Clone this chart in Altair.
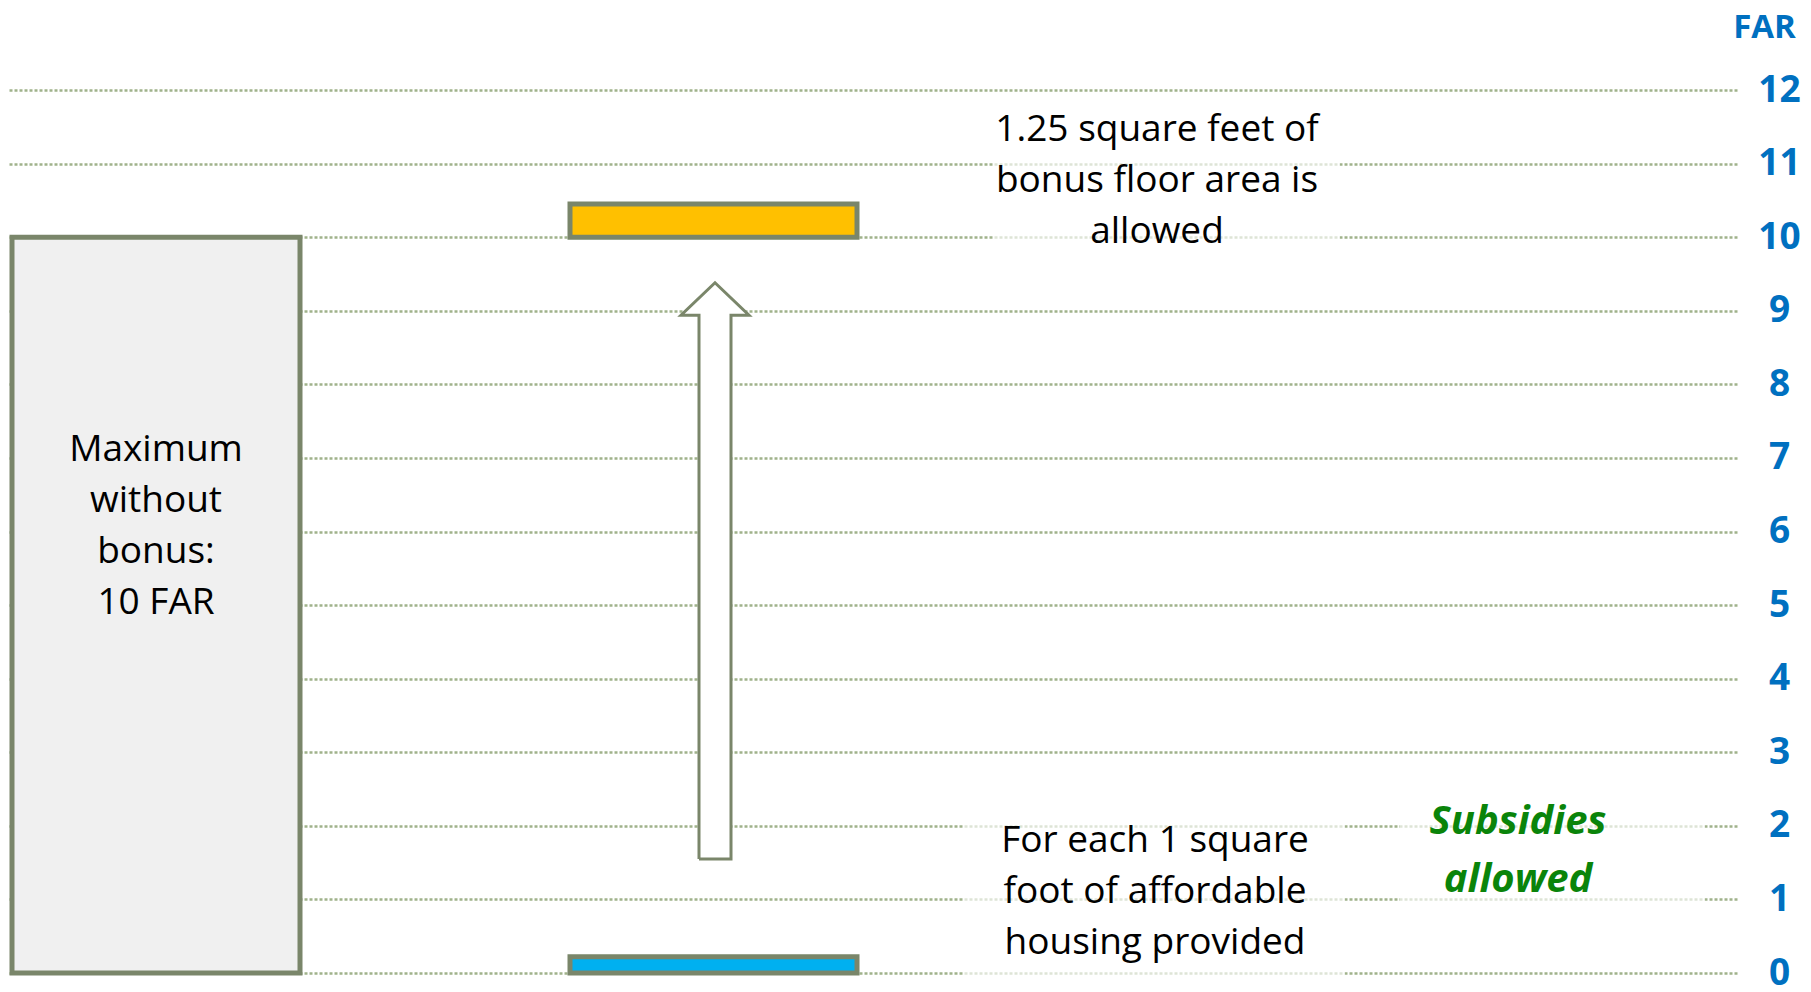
import altair as alt
import pandas as pd

# ---- data ----
far_ticks = list(range(0, 13))

block_names = ["Maximum without bonus", "Bonus floor area", "Affordable housing"]
block_x0 = [12, 570, 570]
block_x1 = [300, 857, 857]
block_far0 = [0, 10, 0]
block_far1 = [10, 10.45, 0.22]
block_fill = ["#F0F0F0", "#FFC000", "#00B0F0"]

arrow_x = [699, 699, 681, 715, 749, 731, 731, 699]
arrow_far = [1.55, 8.94, 8.94, 9.38, 8.94, 8.94, 1.55, 1.55]

note_texts = [
    "Maximum\nwithout\nbonus:\n10 FAR",
    "1.25 square feet of\nbonus floor area is\nallowed",
    "For each 1 square\nfoot of affordable\nhousing provided",
]
note_x = [156, 1157, 1155]
note_far = [7.11, 11.45, 1.80]

green_text = ["Subsidies\nallowed"]
green_x = [1518]
green_far = [2.05]

veil_x0 = [993, 963, 1400]
veil_x1 = [1340, 1345, 1705]
veil_far0 = [9.69, -0.15, 0.5]
veil_far1 = [11.86, 2.2, 2.5]

# ---- styles ----
FONT = "Open Sans"
EDGE = "#7A866A"
GRID = "#A0B28B"
BLUE = "#0070C0"

xscale = alt.Scale(domain=[8, 1737], nice=False, zero=False)
yscale = alt.Scale(domain=[0, 12], nice=False, zero=False)
yaxis = alt.Axis(
    orient="right", values=far_ticks, ticks=False, domain=False,
    grid=True, gridColor=GRID, gridDash=[3, 2], gridWidth=2.5,
    labelFont=FONT, labelFontWeight="bold", labelFontSize=37, labelColor=BLUE,
    labelAlign="center", labelBaseline="middle", labelPadding=42,
    labelFlush=False, labelOverlap=False,
    title="FAR", titleAngle=0, titleAlign="center", titleBaseline="middle",
    titleX=27, titleY=-63, titleFont=FONT, titleFontSize=33,
    titleFontWeight="bold", titleColor=BLUE,
)


def X(f):
    return alt.X(f, type="quantitative", scale=xscale, axis=None)


def Y(f):
    return alt.Y(f, type="quantitative", scale=yscale, axis=yaxis)


blocks = pd.DataFrame({"name": block_names, "x0": block_x0, "x1": block_x1,
                       "f0": block_far0, "f1": block_far1, "fill": block_fill})
arrow = pd.DataFrame({"x": arrow_x, "far": arrow_far, "i": list(range(len(arrow_x)))})
shaft = pd.DataFrame({"x0": [arrow_x[0]], "x1": [arrow_x[-2]],
                      "f0": [arrow_far[0]], "f1": [arrow_far[1]]})
head = pd.DataFrame({"x": arrow_x[2:5], "far": arrow_far[2:5],
                     "base": [arrow_far[2]] * 3})
notes = pd.DataFrame({"t": note_texts, "x": note_x, "far": note_far})
greens = pd.DataFrame({"t": green_text, "x": green_x, "far": green_far})
veils = pd.DataFrame({"x0": veil_x0, "x1": veil_x1, "f0": veil_far0, "f1": veil_far1})

veil_layer = alt.Chart(veils).mark_rect(fill="white", opacity=0.65).encode(
    x=X("x0"), x2="x1", y=Y("f0"), y2="f1")

block_layer = alt.Chart(blocks).mark_rect(stroke=EDGE, strokeWidth=5).encode(
    x=X("x0"), x2="x1", y=Y("f0"), y2="f1",
    fill=alt.Fill("fill:N", scale=None, legend=None))

shaft_layer = alt.Chart(shaft).mark_rect(fill="white").encode(
    x=X("x0"), x2="x1", y=Y("f0"), y2="f1")
head_layer = alt.Chart(head).mark_area(fill="white").encode(
    x=X("x"), y=Y("far"), y2="base")
outline_layer = alt.Chart(arrow).mark_line(color=EDGE, strokeWidth=3).encode(
    x=X("x"), y=Y("far"), order="i:Q")

note_layer = alt.Chart(notes).mark_text(
    font=FONT, fontSize=37, color="black", lineBreak="\n", lineHeight=51,
    align="center", baseline="middle").encode(x=X("x"), y=Y("far"), text="t:N")

green_layer = alt.Chart(greens).mark_text(
    font=FONT, fontSize=40, fontWeight="bold", fontStyle="italic", color="#0A840A",
    lineBreak="\n", lineHeight=58, align="center", baseline="middle").encode(
    x=X("x"), y=Y("far"), text="t:N")

chart = alt.layer(
    veil_layer, block_layer, shaft_layer, head_layer, outline_layer,
    note_layer, green_layer,
).properties(
    width=1729, height=883,
    padding={"left": 0, "top": 82, "right": 66, "bottom": 19},
    autosize="none", background="white",
).configure_view(stroke=None)

chart.save("out.html", embed_options={"renderer": "svg", "actions": False})
